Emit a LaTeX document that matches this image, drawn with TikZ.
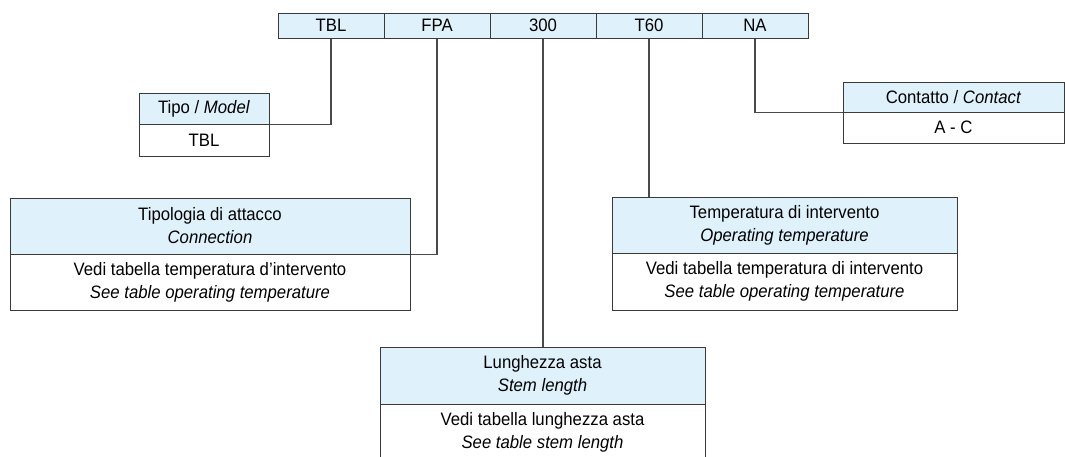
\documentclass[tikz,border=0pt]{standalone}
\usepackage{fontspec}
\setmainfont[FakeStretch=0.93]{Liberation Sans}
\definecolor{hdr}{HTML}{DFF1FB}
\definecolor{brd}{HTML}{3A3A3A}
\definecolor{con}{HTML}{4A4A4A}
\begin{document}
\begin{tikzpicture}[x=1pt,y=-1pt,
  every node/.style={font=\fontsize{18}{23}\selectfont, text=black},
  cell/.style={draw=brd, line width=1pt, fill=hdr, inner sep=0pt, minimum width=106pt, minimum height=25pt},
  hbox/.style={draw=brd, line width=1pt, fill=hdr, inner sep=0pt, align=center},
  vbox/.style={draw=brd, line width=1pt, fill=white, inner sep=0pt, align=center},
  link/.style={draw=con, line width=1.2pt}]
\useasboundingbox (0,0) rectangle (1065,456);
% top code row
\node[cell] (tbl) at (331,25.5) {TBL};
\node[cell] (fpa) at (437,25.5) {FPA};
\node[cell] (c300) at (543,25.5) {300};
\node[cell] (t60) at (649,25.5) {T60};
\node[cell] (na) at (755,25.5) {NA};
% Tipo / Model
\node[hbox, minimum width=130pt, minimum height=31pt] (tipoH) at (204,108.5) {Tipo / \textit{Model}};
\node[vbox, minimum width=130pt, minimum height=32pt] (tipoV) at (204,140) {TBL};
% Contatto / Contact
\node[hbox, minimum width=221pt, minimum height=30pt] (conH) at (953.5,97) {Contatto / \textit{Contact}};
\node[vbox, minimum width=221pt, minimum height=31pt] (conV) at (953.5,127.5) {A - C};
% Tipologia di attacco
\node[hbox, minimum width=400pt, minimum height=56pt] (tipH) at (210,226) {Tipologia di attacco\\\textit{Connection}};
\node[vbox, minimum width=400pt, minimum height=56pt] (tipV) at (210,282) {Vedi tabella temperatura d’intervento\\\textit{See table operating temperature}};
% Temperatura di intervento
\node[hbox, minimum width=345pt, minimum height=56pt] (temH) at (784.5,225) {Temperatura di intervento\\\textit{Operating temperature}};
\node[vbox, minimum width=345pt, minimum height=57pt] (temV) at (784.5,281.5) {Vedi tabella temperatura di intervento\\\textit{See table operating temperature}};
% Lunghezza asta
\node[hbox, minimum width=325pt, minimum height=57pt] (lunH) at (542.5,375.5) {Lunghezza asta\\\textit{Stem length}};
\node[vbox, minimum width=325pt, minimum height=57pt] (lunV) at (542.5,432.5) {Vedi tabella lunghezza asta\\\textit{See table stem length}};
% connectors
\draw[link] (tbl.south) |- (tipoH.south east);
\draw[link] (fpa.south) |- (tipH.south east);
\draw[link] (c300.south) -- (c300.south |- lunH.north);
\draw[link] (t60.south) -- (t60.south |- temH.north);
\draw[link] (na.south) |- (conH.south west);
\end{tikzpicture}
\end{document}
